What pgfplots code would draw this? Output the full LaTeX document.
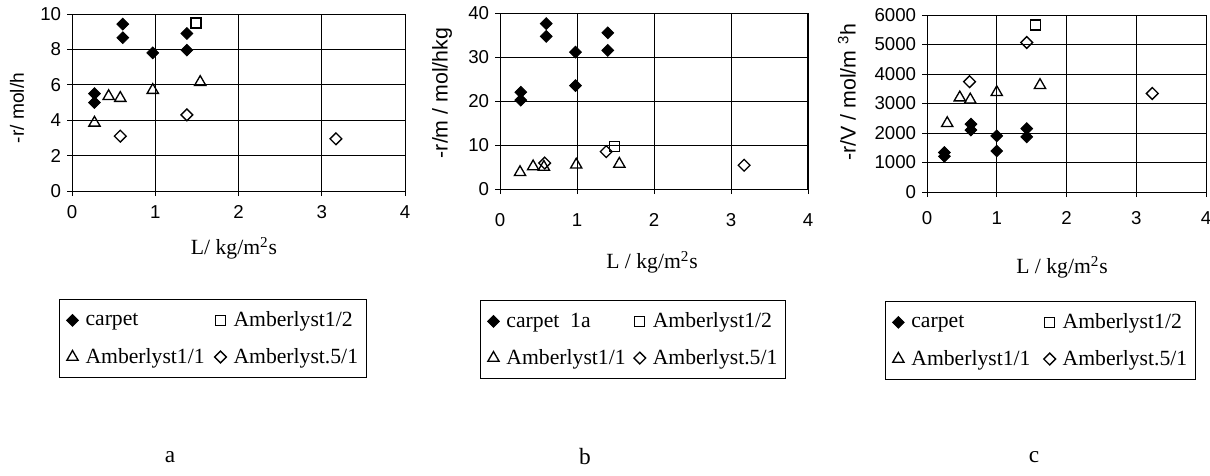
\documentclass[border=0pt]{standalone}
\usepackage{fontspec}
\setmainfont{Liberation Serif}
\newfontfamily\tickfont{Liberation Sans}
\usepackage{pgfplots}
\pgfplotsset{compat=1.18}
\pgfplotsset{
  panel/.style={
    scale only axis,
    anchor=south west,
    xmin=0, xmax=4, ymin=0,
    xtick={0,1,2,3,4},
    grid=major,
    major grid style={black, line width=0.55pt},
    axis line style={black, line width=0.6pt},
    tick align=outside, tick pos=left,
    major tick length=3pt,
    tick style={black, line width=0.55pt},
    /pgf/number format/assume math mode=true,
    /pgf/number format/1000 sep={},
    ticklabel style={font=\tickfont\fontsize{11.2}{13}\selectfont},
    clip=false,
    legend columns=2,
    legend cell align=left,
    legend image code/.code={\path[draw=none,fill=none] (-5pt,-11pt) rectangle (5.8pt,11pt); \draw[##1] plot coordinates {(0pt,0pt)};},
    legend style={draw=black, line width=0.6pt, anchor=north west,
      font=\fontsize{13}{15}\selectfont,
      inner xsep=2.8pt, inner ysep=1.5pt, row sep=0pt,
      /tikz/every even column/.append style={column sep=3pt}},
  },
  carp/.style={only marks, draw=black, fill=black, mark=square*, mark options={rotate=45, fill=black, draw=black, line width=0.5pt}, mark size=2.5pt},
  am12/.style={only marks, draw=black, mark=square, mark options={draw=black, line width=0.8pt}, mark size=3pt},
  am11/.style={only marks, draw=black, mark=triangle, mark options={draw=black, line width=0.8pt}, mark size=3.9pt},
  am51/.style={only marks, draw=black, mark=square, mark options={rotate=45, draw=black, line width=0.8pt}, mark size=2.5pt},
}
\begin{document}
\begin{tikzpicture}
\path[use as bounding box] (0pt,0pt) rectangle (726pt,-285pt);
% ---------------- panel a
\begin{axis}[panel, at={(43.2pt,-114.6pt)}, width=199.8pt, height=106.2pt,
  ymax=10, ytick={0,2,...,10},
  xticklabel style={yshift=-2pt},
  legend style={at={(-0.039,-0.610)}}]
\addplot[carp] coordinates {(0.27,5.5)(0.27,5.0)(0.61,9.43)(0.61,8.66)(0.97,7.8)(1.38,8.9)(1.38,7.96)};
\addplot[am12] coordinates {(1.49,9.5)};
\addplot[am11] coordinates {(0.27,3.85)(0.44,5.35)(0.58,5.25)(0.97,5.7)(1.54,6.15)};
\addplot[am51] coordinates {(0.58,3.1)(1.38,4.3)(3.17,2.95)};
\legend{\makebox[71pt][l]{carpet},Amberlyst1/2,\makebox[71pt][l]{Amberlyst1/1},Amberlyst.5/1}
\end{axis}
% ---------------- panel b
\begin{axis}[panel, at={(300pt,-113.4pt)}, width=184.8pt, height=105.6pt,
  ymax=40, ytick={0,10,...,40},
  xticklabel style={yshift=-8pt},
  legend style={at={(-0.065,-0.631)}}]
\addplot[carp] coordinates {(0.27,22.0)(0.27,20.2)(0.6,37.6)(0.6,34.7)(0.98,31.1)(0.98,23.5)(1.4,35.5)(1.4,31.5)};
\addplot[am12] coordinates {(1.49,9.7)};
\addplot[am11] coordinates {(0.26,3.8)(0.43,5.1)(0.57,5.0)(0.99,5.5)(1.55,5.7)};
\addplot[am51] coordinates {(0.58,5.9)(1.38,8.5)(3.17,5.4)};
\legend{\makebox[70pt][l]{carpet\ \ 1a},Amberlyst1/2,\makebox[70pt][l]{Amberlyst1/1},Amberlyst.5/1}
\end{axis}
% ---------------- panel c
\begin{axis}[panel, at={(556.2pt,-115.2pt)}, width=167.4pt, height=106.2pt,
  ymax=6000, ytick={0,1000,...,6000},
  xticklabel style={yshift=-5pt},
  legend style={at={(-0.151,-0.616)}}]
\addplot[carp] coordinates {(0.25,1340)(0.25,1210)(0.63,2300)(0.63,2100)(1.0,1900)(1.0,1390)(1.43,2150)(1.43,1870)};
\addplot[am12] coordinates {(1.56,5660)};
\addplot[am11] coordinates {(0.29,2330)(0.47,3200)(0.62,3130)(1.0,3380)(1.62,3620)};
\addplot[am51] coordinates {(0.61,3740)(1.43,5070)(3.23,3340)};
\legend{\makebox[73pt][l]{carpet},Amberlyst1/2,\makebox[73pt][l]{Amberlyst1/1},Amberlyst.5/1}
\end{axis}
% ---------------- axis titles
\node[rotate=90, font=\tickfont\fontsize{11.5}{13}\selectfont] at (10.2pt,-64.8pt) {-r/ mol/h};
\node[rotate=90, font=\tickfont\fontsize{12.8}{14}\selectfont] at (265.2pt,-55.8pt) {-r/m / mol/hkg};
\node[rotate=90, font=\tickfont\fontsize{12.8}{14}\selectfont] at (508.2pt,-55.2pt) {-r/V / mol/m \textsuperscript{3}h};
\node[font=\fontsize{13}{15}\selectfont] at (140.4pt,-148.8pt) {L/ kg/m\textsuperscript{2}s};
\node[font=\fontsize{13}{15}\selectfont] at (391.2pt,-157.2pt) {L / kg/m\textsuperscript{2}s};
\node[font=\fontsize{13}{15}\selectfont] at (637.2pt,-160.2pt) {L / kg/m\textsuperscript{2}s};
\node[font=\fontsize{14}{16}\selectfont] at (102pt,-274pt) {a};
\node[font=\fontsize{14}{16}\selectfont] at (351pt,-274pt) {b};
\node[font=\fontsize{14}{16}\selectfont] at (620.4pt,-274pt) {c};
\end{tikzpicture}
\end{document}
